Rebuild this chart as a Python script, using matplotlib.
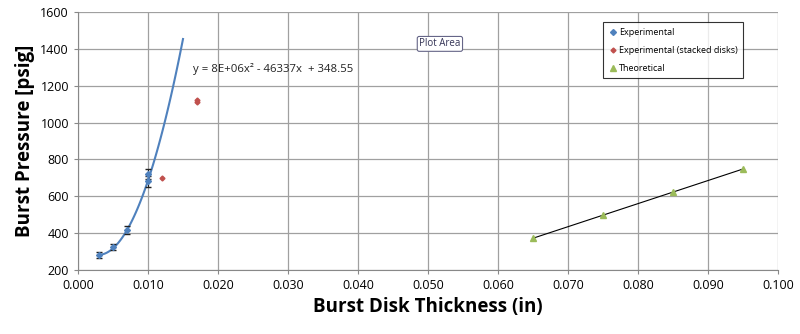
import numpy as np
import matplotlib.pyplot as plt

# experimental data
exp_x = [0.003, 0.005, 0.007, 0.010, 0.010]
exp_y = [280, 325, 415, 680, 720]
exp_err = [15, 18, 22, 30, 25]

stack_x = [0.012, 0.017, 0.017]
stack_y = [700, 1110, 1125]

theo_x = [0.065, 0.075, 0.085, 0.095]
theo_y = [372, 497, 622, 748]

# polynomial trendline coefficients (from the chart label)
coef = [8e6, -46337, 348.55]

plt.rcParams['font.family'] = ['Open Sans', 'DejaVu Sans']

fig = plt.figure(figsize=(8, 3.34), dpi=100)
ax = fig.add_axes([0.0975, 0.192, 0.875, 0.772])

xs = np.linspace(0.003, 0.015, 100)
ax.plot(xs, np.polyval(coef, xs), color='#4F81BD', lw=1.5, zorder=3)

ax.errorbar(exp_x, exp_y, yerr=exp_err, fmt='none',
            ecolor='#222222', elinewidth=0.8, capsize=2, zorder=4)
ax.plot(exp_x, exp_y, 'D', ms=3, color='#4F81BD', ls='none',
        label='Experimental', zorder=5)
ax.plot(stack_x, stack_y, 'D', ms=2.5, color='#C0504D', ls='none',
        label='Experimental (stacked disks)', zorder=4)

tfit = np.polyfit(theo_x, theo_y, 1)
ax.plot(theo_x, np.polyval(tfit, theo_x), color='black', lw=0.8, zorder=3)
ax.plot(theo_x, theo_y, '^', ms=5, color='#9BBB59', ls='none', label='Theoretical', zorder=4)

ax.text(0.0164, 1290, 'y = 8E+06x² - 46337x  + 348.55', fontsize=8.2,
        color='#222222', va='center')
ax.text(0.0517, 1427, 'Plot Area', fontsize=7, color='#333355', ha='center', va='center',
        bbox=dict(boxstyle='round,pad=0.2', fc='white', ec='#666688', lw=0.8))

ax.set_xlim(0, 0.1)
ax.set_ylim(200, 1600)
ax.set_xticks(np.arange(0, 0.1001, 0.01))
ax.set_xticklabels([f'{v:.3f}' for v in np.arange(0, 0.1001, 0.01)])
ax.set_yticks(range(200, 1601, 200))
ax.tick_params(labelsize=9, length=3, color='#888888')
ax.grid(True, color='#a0a0a0', lw=0.9)
ax.set_axisbelow(True)
for s in ['top', 'right']:
    ax.spines[s].set_visible(False)
for s in ['left', 'bottom']:
    ax.spines[s].set_color('#888888')

ax.set_xlabel('Burst Disk Thickness (in)', fontsize=13.5, fontweight='bold')
ax.set_ylabel('Burst Pressure [psig]', fontsize=13.5, fontweight='bold')

leg = ax.legend(loc='upper left', bbox_to_anchor=(0.75, 0.96), fontsize=6.5,
                frameon=True, fancybox=False, edgecolor='black', handletextpad=0.2,
                handlelength=1, borderpad=0.6, labelspacing=1.0, borderaxespad=0)
leg.get_frame().set_linewidth(0.8)

fig.savefig('out.png', dpi=100)
